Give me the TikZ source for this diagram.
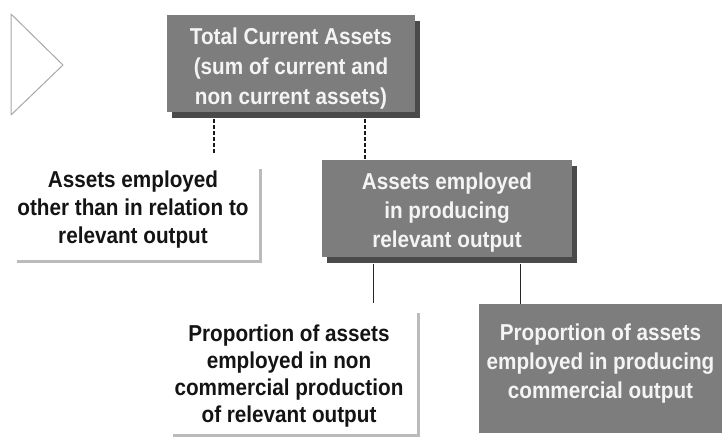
\documentclass[tikz,border=0pt]{standalone}
\usepackage{fontspec}
\setmainfont{Liberation Sans}[FakeStretch=0.9]
\usetikzlibrary{shadows}
\definecolor{boxgrey}{HTML}{7D7D7D}
\definecolor{shadowgrey}{HTML}{4A4A4A}
\definecolor{rulegrey}{HTML}{BBBBBB}
\definecolor{trigrey}{HTML}{A8A8A8}
\definecolor{boxtext}{HTML}{F4F4F4}
\begin{document}
\begin{tikzpicture}[x=1pt,y=-1pt,
  boxfont/.style={font=\fontsize{23}{#1}\selectfont\bfseries},
  greybox/.style={fill=boxgrey, inner sep=0pt},
  shadowed/.style={drop shadow={shadow xshift=5pt, shadow yshift=-6pt, fill=shadowgrey, opacity=1}},
  boxlabel/.style={text=boxtext, align=center, inner sep=0pt},
  plaintext/.style={text=black!92, align=center, inner sep=0pt},
  greyrule/.style={draw=rulegrey, line width=3pt},
  dashconn/.style={draw=black!90, line width=1.6pt, dash pattern=on 4pt off 2pt},
  solidconn/.style={draw=black!85, line width=1pt}]
\useasboundingbox (0,0) rectangle (722,437);
\fill[white] (0,0) rectangle (722,437);

% chevron
\draw[trigrey, line width=1pt, line join=round] (11,14) -- (63,65) -- (11,115) -- cycle;

% top box
\node[greybox, shadowed, minimum width=248pt, minimum height=97pt] (total) at (291,63.5) {};
\node[boxlabel, boxfont=30] (totaltext) at (291,68.5)
  {Total Current Assets\\(sum of current and\\non current assets)};

% left text
\node[plaintext, boxfont=28] (other) at (133,210)
  {Assets employed\\other than in relation to\\relevant output};
\coordinate (otherTR) at (260,169);
\coordinate (otherBR) at (260,261);
\coordinate (otherBL) at (17,261);
\draw[greyrule] (otherTR) -- (otherBR) -- (otherBL);

% middle box
\node[greybox, shadowed, minimum width=250pt, minimum height=97pt] (mid) at (447,208.5) {};
\node[boxlabel, boxfont=29] (midtext) at (447,212.5)
  {Assets employed\\in producing\\relevant output};

% bottom left text
\node[plaintext, boxfont=27] (noncom) at (289,376)
  {Proportion of assets\\employed in non\\commercial production\\of relevant output};
\coordinate (noncomTR) at (418,313);
\coordinate (noncomBR) at (418,435);
\coordinate (noncomBL) at (173,435);
\draw[greyrule] (noncomTR) -- (noncomBR) -- (noncomBL);

% bottom right box
\node[greybox, minimum width=243pt, minimum height=129pt] (com) at (600.5,368.5) {};
\node[boxlabel, boxfont=29] (comtext) at (600.5,363.5)
  {Proportion of assets\\employed in producing\\commercial output};

% connectors
\coordinate (d1end) at (214,154);
\coordinate (d2x) at (365,0);
\coordinate (s1end) at (373,303);
\coordinate (s2x) at (520,0);
\draw[dashconn] ([yshift=-7pt]total.south -| d1end) -- (d1end);
\draw[dashconn] ([yshift=-7pt]total.south -| d2x) -- (mid.north -| d2x);
\draw[solidconn] ([yshift=-7pt]mid.south -| s1end) -- (s1end);
\draw[solidconn] ([yshift=-7pt]mid.south -| s2x) -- (com.north -| s2x);
\end{tikzpicture}
\end{document}
